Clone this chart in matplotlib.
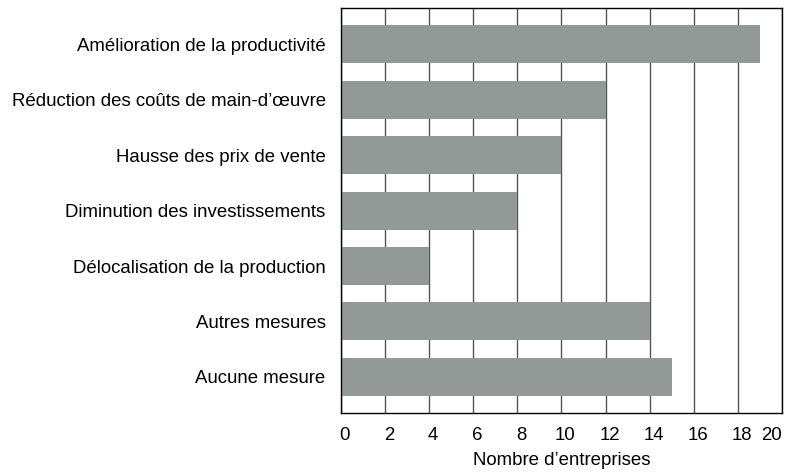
import matplotlib
matplotlib.use("Agg")
import matplotlib.pyplot as plt
import matplotlib.transforms as mtransforms

categories = [
    "Amélioration de la productivité",
    "Réduction des coûts de main-d\u2019œuvre",
    "Hausse des prix de vente",
    "Diminution des investissements",
    "Délocalisation de la production",
    "Autres mesures",
    "Aucune mesure",
]
values = [19, 12, 10, 8, 4, 14, 15]
xticks = list(range(0, 21, 2))

plt.rcParams['font.family'] = ['Liberation Sans', 'DejaVu Sans']
FS = 13.4

fig = plt.figure(figsize=(7.91, 4.75), dpi=100)
ax = fig.add_axes([0.431, 0.1305, 0.5576, 0.8525])

ax.set_axisbelow(True)
ax.grid(axis='x', color='#555555', linewidth=1.0)
ax.barh(range(len(categories)), values, height=0.685, color='#939996', zorder=2)
ax.set_yticks(range(len(categories)))
ax.set_yticklabels(categories, fontsize=FS)
ax.set_xticks(xticks)
ax.set_xticklabels([str(t) for t in xticks], fontsize=FS)
ax.set_xlim(0, 20)
ax.set_ylim(6.65, -0.65)
ax.tick_params(axis='y', length=0, pad=11)
ax.tick_params(axis='x', length=0, pad=10)
offset = mtransforms.ScaledTranslation(4/100, 0, fig.dpi_scale_trans)
xlabels = ax.get_xticklabels()
for lbl in xlabels[:-1]:
    lbl.set_transform(lbl.get_transform() + offset)
xlabels[-1].set_horizontalalignment('right')
ax.set_xlabel("Nombre d\u2019entreprises", fontsize=FS, labelpad=6)
for s in ax.spines.values():
    s.set_color('black')
    s.set_linewidth(1.0)

fig.savefig("out.png", dpi=100)
